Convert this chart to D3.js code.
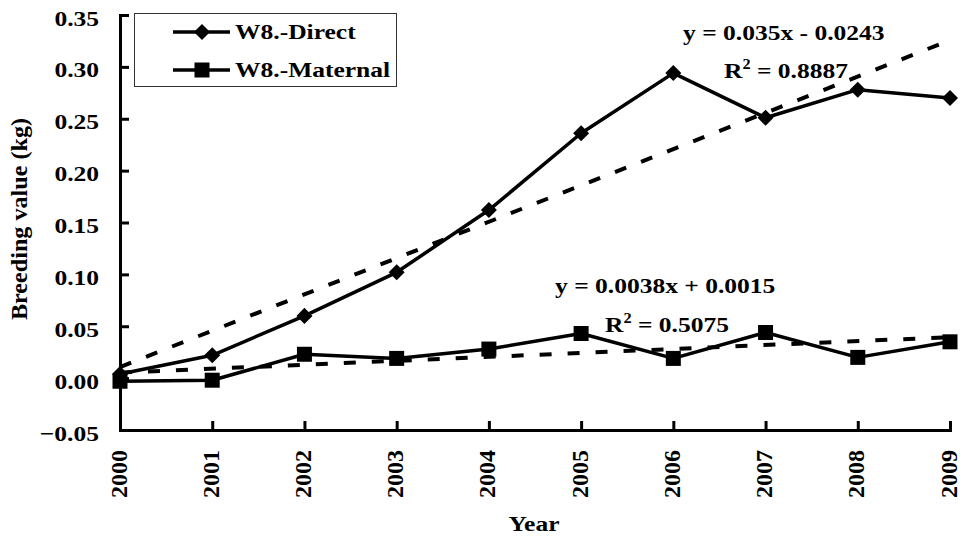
<!DOCTYPE html>
<html>
<head>
<meta charset="utf-8">
<script src="https://cdn.jsdelivr.net/npm/d3@7"></script>
<style>
  html, body { margin: 0; padding: 0; background: #ffffff; }
  svg { display: block; }
</style>
</head>
<body>
<script>
// data
const years = [2000, 2001, 2002, 2003, 2004, 2005, 2006, 2007, 2008, 2009];
const directValues = [0.004, 0.022, 0.060, 0.102, 0.162, 0.236, 0.294, 0.251, 0.278, 0.270];
const maternalValues = [-0.003, -0.002, 0.023, 0.019, 0.028, 0.043, 0.019, 0.044, 0.020, 0.035];
const trendYears = [2000, 2009];
const directTrend = [0.0107, 0.3257];   // y = 0.035x - 0.0243 at x = 1 and 10
const maternalTrend = [0.0053, 0.0395]; // y = 0.0038x + 0.0015 at x = 1 and 10
const yTicks = [-0.05, 0, 0.05, 0.10, 0.15, 0.20, 0.25, 0.30, 0.35];
const seriesNames = ['W8.-Direct', 'W8.-Maternal'];

const W = 960, H = 540;
const FONT = '"Liberation Serif", "Times New Roman", serif';
const SX = 1.16; // the reference text is a little wide

const svg = d3.select('body').append('svg')
  .attr('width', W)
  .attr('height', H)
  .attr('xmlns', 'http://www.w3.org/2000/svg');

const x = d3.scaleLinear().domain([2000, 2009]).range([120, 950]);
const y = d3.scaleLinear().domain([-0.05, 0.35]).range([430, 15]);

// Y axis
const yAxis = svg.append('g')
  .attr('transform', `translate(${x(2000)},0)`)
  .call(d3.axisLeft(y).tickValues(yTicks).tickFormat(d3.format('.2f'))
    .tickSize(-9).tickSizeOuter(0).tickPadding(21));
yAxis.select('.domain').attr('stroke', '#000').attr('stroke-width', 3);
yAxis.selectAll('.tick line').attr('stroke', '#000').attr('stroke-width', 3);
yAxis.selectAll('.tick text')
  .attr('x', -21 / SX)
  .attr('dy', 10)
  .attr('transform', `scale(${SX},1)`)
  .attr('font-family', FONT)
  .attr('font-size', 22)
  .attr('font-weight', 'bold')
  .attr('fill', '#000');

// X axis
const xAxis = svg.append('g')
  .attr('transform', `translate(0,${y(-0.05)})`)
  .call(d3.axisBottom(x).tickValues(years).tickFormat(d3.format('d'))
    .tickSize(-9).tickSizeOuter(0));
xAxis.select('.domain').attr('stroke', '#000').attr('stroke-width', 3);
xAxis.selectAll('.tick line').attr('stroke', '#000').attr('stroke-width', 3);
xAxis.selectAll('.tick text')
  .attr('x', 0).attr('y', 0).attr('dy', null)
  .attr('text-anchor', 'end')
  .attr('transform', 'translate(6,20) rotate(-90)')
  .attr('font-family', FONT)
  .attr('font-size', 24)
  .attr('font-weight', 'bold')
  .attr('fill', '#000');
svg.selectAll('.domain').attr('stroke-linecap', 'square');

// Axis titles
svg.append('text')
  .attr('transform', 'translate(27,219) rotate(-90)')
  .attr('text-anchor', 'middle')
  .attr('font-family', FONT)
  .attr('font-size', 24)
  .attr('font-weight', 'bold')
  .attr('textLength', 202)
  .attr('lengthAdjust', 'spacingAndGlyphs')
  .text('Breeding value (kg)');

svg.append('text')
  .attr('transform', `translate(534,531) scale(${SX},1)`)
  .attr('text-anchor', 'middle')
  .attr('font-family', FONT)
  .attr('font-size', 22)
  .attr('font-weight', 'bold')
  .text('Year');

// Trend lines
const line = d3.line().x(d => x(d[0])).y(d => y(d[1]));
[directTrend, maternalTrend].forEach(t => {
  svg.append('path')
    .datum(d3.zip(trendYears, t))
    .attr('d', line)
    .attr('fill', 'none')
    .attr('stroke', '#000')
    .attr('stroke-width', 4)
    .attr('stroke-dasharray', '12,16');
});

// Series lines
const diamond = d3.symbol().type(d3.symbolSquare).size(128);
const square = d3.symbol().type(d3.symbolSquare).size(225);

[[directValues, 'diamond'], [maternalValues, 'square']].forEach(([vals, mk]) => {
  svg.append('path')
    .datum(d3.zip(years, vals))
    .attr('d', line)
    .attr('fill', 'none')
    .attr('stroke', '#000')
    .attr('stroke-width', 3.5)
    .attr('stroke-linejoin', 'round');
  svg.append('g').selectAll('path')
    .data(d3.zip(years, vals))
    .join('path')
    .attr('d', mk === 'diamond' ? diamond : square)
    .attr('transform', d => `translate(${x(d[0])},${y(d[1])})` + (mk === 'diamond' ? ' rotate(45)' : ''))
    .attr('fill', '#000');
});

// Legend
const legend = svg.append('g');
legend.append('rect')
  .attr('x', 134.5).attr('y', 13.5)
  .attr('width', 262).attr('height', 73)
  .attr('fill', '#fff')
  .attr('stroke', '#333')
  .attr('stroke-width', 1);
seriesNames.forEach((name, i) => {
  const ly = 32 + i * 38;
  legend.append('line')
    .attr('x1', 173).attr('x2', 230)
    .attr('y1', ly).attr('y2', ly)
    .attr('stroke', '#000').attr('stroke-width', 3.5);
  legend.append('path')
    .attr('d', i === 0 ? diamond : square)
    .attr('transform', `translate(202,${ly})` + (i === 0 ? ' rotate(45)' : ''))
    .attr('fill', '#000');
  legend.append('text')
    .attr('transform', `translate(235,${ly + 7}) scale(${SX},1)`)
    .attr('font-family', FONT)
    .attr('font-size', 22)
    .attr('font-weight', 'bold')
    .text(name);
});

// Trend equations
function equation(tx, ty, txt) {
  svg.append('text')
    .attr('transform', `translate(${tx},${ty}) scale(${SX},1)`)
    .attr('font-family', FONT)
    .attr('font-size', 22)
    .attr('font-weight', 'bold')
    .text(txt);
}
function rSquared(tx, ty, val) {
  const t = svg.append('text')
    .attr('transform', `translate(${tx},${ty}) scale(${SX},1)`)
    .attr('font-family', FONT)
    .attr('font-size', 22)
    .attr('font-weight', 'bold');
  t.append('tspan').text('R');
  t.append('tspan').attr('font-size', 14).attr('dy', -9).text('2');
  t.append('tspan').attr('dy', 9).text(' = ' + val);
}
equation(683, 40, 'y = 0.035x - 0.0243');
rSquared(724, 78, '0.8887');
equation(555, 293, 'y = 0.0038x + 0.0015');
rSquared(605, 332, '0.5075');
</script>
</body>
</html>
